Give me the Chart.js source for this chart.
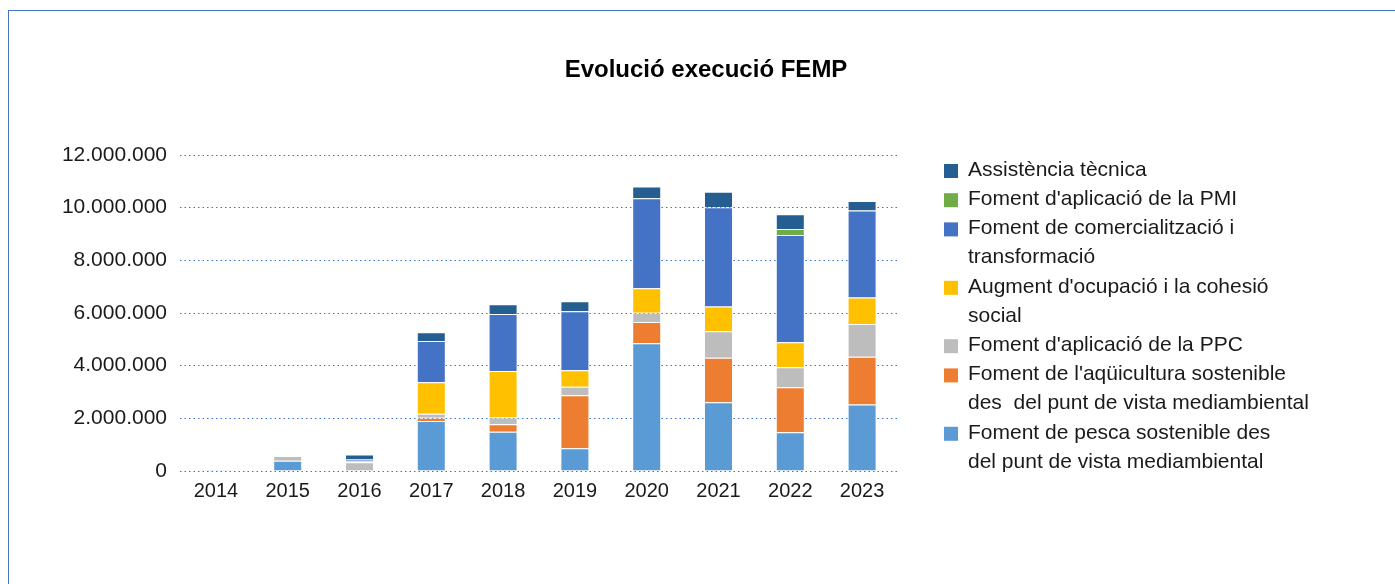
<!DOCTYPE html>
<html>
<head>
<meta charset="utf-8">
<script src="https://cdn.jsdelivr.net/npm/chart.js@4.4.1/dist/chart.umd.min.js"></script>
<style>
  html, body { margin: 0; padding: 0; background: #fff; }
  #wrap { position: relative; width: 1395px; height: 584px; overflow: hidden; }
  #frame { position: absolute; left: 8px; top: 10px; width: 1400px; height: 600px;
           border-top: 1.5px solid #4472C4; border-left: 1.5px solid #4472C4; }
  canvas { position: absolute; left: 0; top: 0; }
</style>
</head>
<body>
<div id="wrap">
  <div id="frame"></div>
  <canvas id="c" width="1395" height="584"></canvas>
</div>
<script>
const titleText = 'Evolució execució FEMP';
const categories = ['2014', '2015', '2016', '2017', '2018', '2019', '2020', '2021', '2022', '2023'];
const pesca       = [40000, 390000,      0, 1900000, 1490000,  860000, 4850000, 2610000, 1470000, 2530000];
const aquicultura = [    0,      0,      0,  125000,  290000, 2020000,  810000, 1690000, 1710000, 1810000];
const ppc         = [    0, 180000, 330000,  150000,  250000,  320000,  350000, 1010000,  760000, 1240000];
const augment     = [    0,      0,  60000, 1200000, 1770000,  630000,  930000,  940000,  950000, 1010000];
const comerc      = [    0,      0,  50000, 1560000, 2160000, 2240000, 3420000, 3770000, 4070000, 3300000];
const pmi         = [    0,      0,      0,       0,       0,       0,       0,       0,  230000,       0];
const assist      = [    0,      0, 190000,  330000,  370000,  380000,  440000,  580000,  560000,  360000];
const yTicks = [0, 2000000, 4000000, 6000000, 8000000, 10000000, 12000000];

const seriesNames = [
  ['Foment de pesca sostenible des', 'del punt de vista mediambiental'],
  ['Foment de l\'aqüicultura sostenible', 'des  del punt de vista mediambiental'],
  ['Foment d\'aplicació de la PPC'],
  ['Augment d\'ocupació i la cohesió', 'social'],
  ['Foment de comercialització i', 'transformació'],
  ['Foment d\'aplicació de la PMI'],
  ['Assistència tècnica']
];
const seriesData = [pesca, aquicultura, ppc, augment, comerc, pmi, assist];
const seriesColors = ['#5B9BD5', '#ED7D31', '#BDBDBD', '#FFC000', '#4472C4', '#70AD47', '#255E91'];

const FONT = '"Liberation Sans", Arial, Helvetica, sans-serif';
const fmt = v => String(v).replace(/\B(?=(\d{3})+(?!\d))/g, '.');

const extras = {
  id: 'extras',
  afterDraw(chart) {
    const ctx = chart.ctx;
    ctx.save();
    // title
    ctx.fillStyle = '#000';
    ctx.font = 'bold 24px ' + FONT;
    ctx.textAlign = 'center';
    ctx.textBaseline = 'middle';
    ctx.fillText(titleText, 706, 70);
    // legend (reverse order)
    ctx.font = '21px ' + FONT;
    ctx.textAlign = 'left';
    let line = 0;
    const lh = 29.2;
    for (let i = chart.data.datasets.length - 1; i >= 0; i--) {
      const ds = chart.data.datasets[i];
      const y = 170 + line * lh;
      ctx.fillStyle = ds.backgroundColor;
      ctx.fillRect(944, y - 6, 14, 14);
      ctx.fillStyle = '#1a1a1a';
      ds.label.forEach((t, k) => {
        ctx.fillText(t, 968, y + k * lh);
      });
      line += ds.label.length;
    }
    ctx.restore();
  }
};

new Chart(document.getElementById('c'), {
  type: 'bar',
  data: {
    labels: categories,
    datasets: seriesData.map((d, i) => ({
      label: seriesNames[i],
      data: d,
      backgroundColor: seriesColors[i],
      borderColor: 'rgba(255,255,255,0.35)',
      borderWidth: 1,
      categoryPercentage: 1,
      barPercentage: 0.404
    }))
  },
  options: {
    responsive: false,
    animation: false,
    layout: { padding: { top: 155, right: 497, bottom: 73, left: 0 } },
    plugins: { legend: { display: false }, title: { display: false }, tooltip: { enabled: false } },
    scales: {
      x: {
        stacked: true,
        grid: { display: false, drawTicks: false },
        border: { display: false },
        ticks: { padding: 8, color: '#1a1a1a', font: { family: FONT, size: 20 } },
        afterFit(s) { s.height = 40; }
      },
      y: {
        stacked: true,
        min: 0, max: 12000000,
        afterBuildTicks(s) { s.ticks = yTicks.map(v => ({ value: v })); },
        grid: { color: '#3a74d0', lineWidth: 1, drawTicks: false },
        border: { display: false, dash: [1.5, 3] },
        ticks: { padding: 13, color: '#1a1a1a', font: { family: FONT, size: 21 }, callback: v => fmt(v) },
        afterFit(s) { s.width = 180; }
      }
    }
  },
  plugins: [extras]
});
</script>
</body>
</html>
